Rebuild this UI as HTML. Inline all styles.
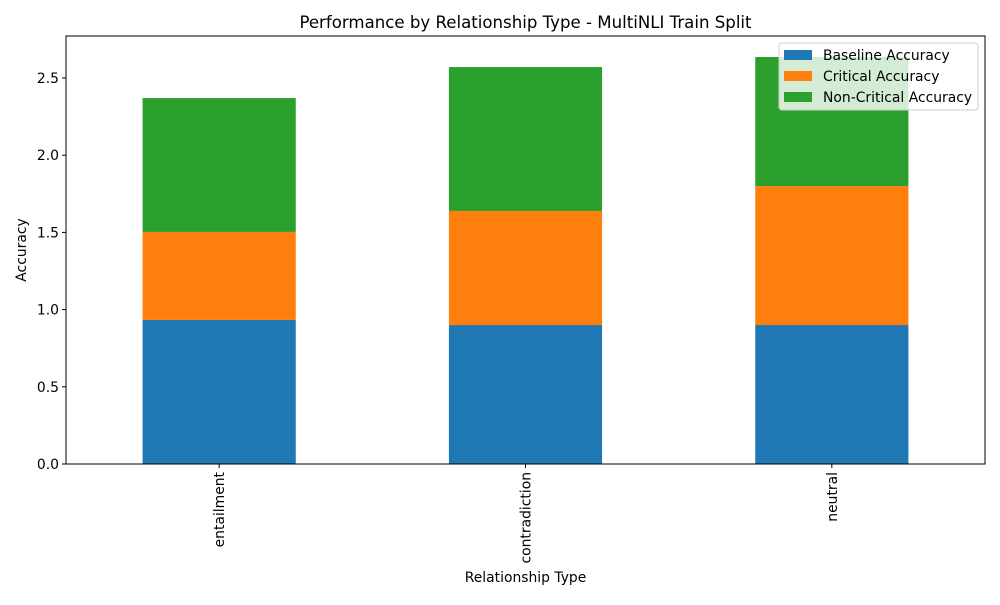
<!DOCTYPE html>
<html><head><meta charset="utf-8"><style>
body{margin:0;background:#fff;font-family:"Liberation Sans","DejaVu Sans",sans-serif}
</style></head><body>
<svg id="chart" width="1000" height="600" xmlns="http://www.w3.org/2000/svg" font-family="DejaVu Sans, Liberation Sans, sans-serif">
<text x="525.5" y="28" text-anchor="middle" font-size="16.6">Performance by Relationship Type - MultiNLI Train Split</text>
<g id="plot"></g>
<text x="525.5" y="582" text-anchor="middle" font-size="13.9">Relationship Type</text>
<text transform="translate(26,250) rotate(-90)" text-anchor="middle" font-size="13.9">Accuracy</text>
</svg>
<script>
const categories = ["entailment","contradiction","neutral"];
const seriesNames = ["Baseline Accuracy","Critical Accuracy","Non-Critical Accuracy"];
const baseline = [0.933,0.90,0.90];
const critical = [0.57,0.739,0.90];
const nonCritical = [0.867,0.932,0.836];
const yTicks = [0.0,0.5,1.0,1.5,2.0,2.5];
const colors = ["#1f77b4","#ff7f0e","#2ca02c"];
const L=66,R=985,T=36,B=464,yMax=2.772;
const NS="http://www.w3.org/2000/svg";
const g=document.getElementById('plot');
const y=v=>B-(v/yMax)*(B-T);
const step=(R-L)/categories.length;
const x=i=>L+step*(i+0.5);
function el(t,a){const e=document.createElementNS(NS,t);for(const k in a)e.setAttribute(k,a[k]);g.appendChild(e);return e;}
const series=[baseline,critical,nonCritical];
categories.forEach((c,i)=>{
  let acc=0;
  series.forEach((s,j)=>{
    const r=el('rect',{x:x(i)-step*0.25,y:y(acc+s[i]),width:step*0.5,height:y(acc)-y(acc+s[i]),fill:colors[j]});
    
    
    acc+=s[i];
  });
  const tk=el('line',{x1:x(i),x2:x(i),y1:B,y2:B+4,stroke:'#000'});
  
  
  const t=el('text',{transform:`translate(${x(i)+5},${B+8}) rotate(-90)`,'text-anchor':'end','font-size':13.9});
  t.textContent=c;
  
  
});
yTicks.forEach(v=>{
  const tk=el('line',{x1:L-4,x2:L,y1:y(v),y2:y(v),stroke:'#000'});
  
  
  const t=el('text',{x:L-7,y:y(v)+5,'text-anchor':'end','font-size':13.9});
  t.textContent=v.toFixed(1);
  
  
});
const frame=el('rect',{x:L,y:T,width:R-L,height:B-T,fill:'none',stroke:'#000','stroke-width':1});


const lg=el('rect',{x:779,y:43,width:199,height:67,rx:3,fill:'#fff','fill-opacity':0.8,stroke:'#ccc'});


seriesNames.forEach((n,j)=>{
  const yy=55+j*21;
  const sw=el('rect',{x:784,y:yy-5,width:28,height:10,fill:colors[j]});
  
  
  const t=el('text',{x:823,y:yy+5,'font-size':13.9});
  t.textContent=n;
  
  
});
</script>
</body></html>
